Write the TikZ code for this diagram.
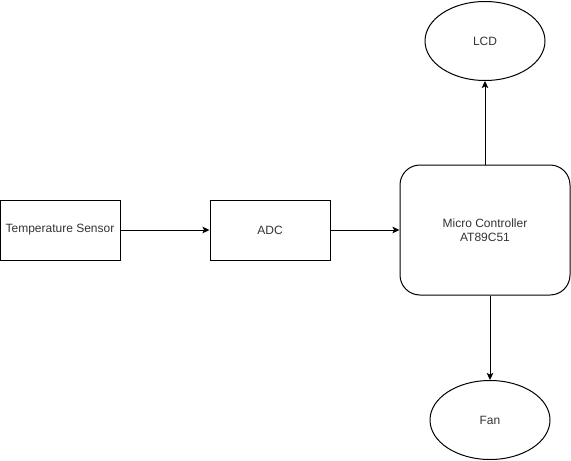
\documentclass[tikz,border=0pt]{standalone}
\usepackage{fontspec}
\setmainfont{Liberation Sans}
\usetikzlibrary{arrows.meta,shapes.geometric}
\definecolor{txt}{HTML}{333333}
\begin{document}
\begin{tikzpicture}[x=1pt,y=-1pt,
  box/.style={draw=black,line width=1pt,minimum width=120pt,minimum height=60pt,inner sep=0pt,font=\fontsize{12}{14}\selectfont,text=txt,align=center},
  mcbox/.style={box,rounded corners=20pt,minimum width=170pt,minimum height=130pt},
  oval/.style={draw=black,line width=1pt,ellipse,minimum width=120pt,minimum height=79pt,inner sep=0pt,font=\fontsize{12}{14}\selectfont,text=txt},
  conn/.style={line width=1pt,-{Stealth[length=7pt,width=6.5pt,inset=1.5pt]}}]
\useasboundingbox (0,0) rectangle (571,461);
\node[box] (ts) at (60,230) {Temperature Sensor};
\node[box] (adc) at (270,230) {ADC};
\node[mcbox] (mc) at (485,230) {Micro Controller\\AT89C51};
\node[oval] (lcd) at (485,41) {LCD};
\node[oval] (fan) at (490,420) {Fan};
\draw[conn] (ts) -- (adc);
\draw[conn] (adc) -- (mc);
\draw[conn] (mc.north) -- (lcd.south);
\draw[conn] (mc.south -| fan.north) -- (fan.north);
\end{tikzpicture}
\end{document}
